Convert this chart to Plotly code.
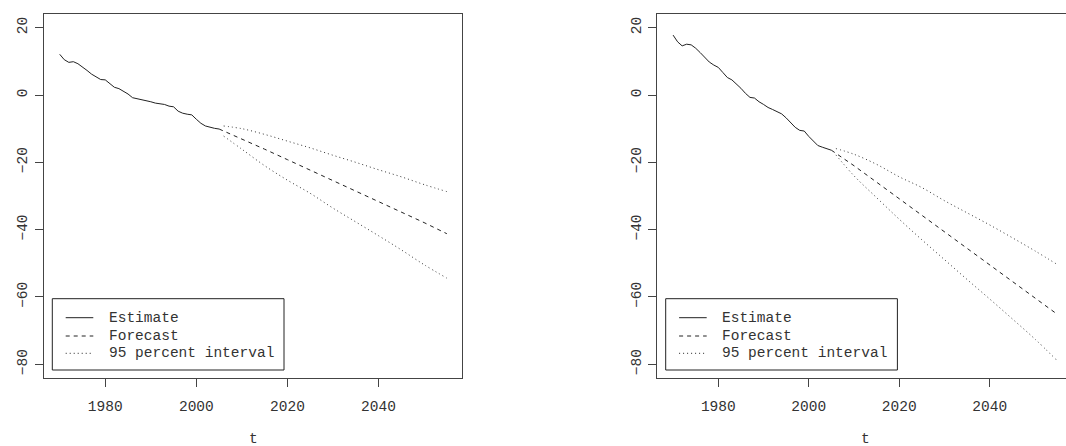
import plotly.graph_objects as go

# ---------------- data ----------------
est_years = list(range(1970, 2006))
left_est = [12.1, 10.5, 9.7, 9.9, 9.3, 8.4, 7.3, 6.2, 5.3, 4.6,
            4.5, 3.5, 2.3, 1.9, 1.2, 0.3, -0.8, -1.1, -1.2, -1.7,
            -2.0, -2.4, -2.5, -2.8, -3.3, -3.5, -4.8, -5.4, -5.7, -5.9,
            -7.2, -8.4, -9.2, -9.6, -9.9, -10.1]
right_est = [17.8, 15.8, 14.6, 15.1, 14.9, 13.9, 12.6, 11.3, 9.8, 8.9,
             8.2, 6.7, 5.2, 4.5, 3.3, 2.0, 0.5, -0.7, -0.9, -2.0,
             -2.8, -3.7, -4.3, -5.0, -5.6, -6.8, -8.3, -9.6, -10.5, -10.7,
             -12.3, -13.8, -15.0, -15.5, -15.9, -16.4]

fc_years = [2005, 2010, 2015, 2020, 2025, 2030, 2035, 2040, 2045, 2050, 2055]
left_fc = [-10.1, -13.0, -16.1, -19.2, -22.3, -25.4, -28.6, -31.7, -34.8, -37.9, -41.2]
right_fc = [-16.4, -21.0, -25.9, -30.8, -35.6, -40.5, -45.4, -50.3, -55.2, -60.2, -65.2]

int_years = [2006, 2010, 2015, 2020, 2025, 2030, 2035, 2040, 2045, 2050, 2055]
left_up = [-9.2, -10.0, -11.7, -13.7, -15.7, -17.9, -20.0, -22.2, -24.3, -26.6, -28.7]
left_lo = [-12.2, -16.1, -21.0, -25.3, -29.2, -33.6, -37.7, -41.8, -46.0, -50.4, -54.4]
right_up = [-15.9, -17.6, -20.6, -24.3, -27.5, -31.4, -35.0, -38.6, -42.4, -46.3, -50.4]
right_lo = [-17.8, -24.0, -30.5, -36.9, -43.0, -48.9, -54.8, -60.6, -66.5, -72.5, -79.0]

x_ticks = [1980, 2000, 2020, 2040]
y_ticks = [20, 0, -20, -40, -60, -80]
legend_labels = ["Estimate", "Forecast", "95 percent interval"]
x_title = "t"

# ---------------- styling ----------------
W, H = 1066, 446
ML, MR, MT, MB = 44, 0, 14, 68
PW, PH = W - ML - MR, H - MT - MB
FONT = "Liberation Mono, Courier New, monospace"
TXT = "#333333"
AX = "#444444"
FS = 14.5
DASH_FC = "4px,4px"
DASH_INT = "1px,3px"


def px_x(p):
    return (p - ML) / PW


def px_y(p):
    return (H - MB - p) / PH


fig = go.Figure()

panels = [
    ("x", "y", left_est, left_fc, left_up, left_lo),
    ("x2", "y2", right_est, right_fc, right_up, right_lo),
]
for xa, ya, est, fc, up, lo in panels:
    fig.add_trace(go.Scatter(x=est_years, y=est, mode="lines", xaxis=xa, yaxis=ya,
                             line=dict(color="#222222", width=1), showlegend=False))
    fig.add_trace(go.Scatter(x=fc_years, y=fc, mode="lines", xaxis=xa, yaxis=ya,
                             line=dict(color="#222222", width=1, dash=DASH_FC), showlegend=False))
    for arr in (up, lo):
        fig.add_trace(go.Scatter(x=int_years, y=arr, mode="lines", xaxis=xa, yaxis=ya,
                                 line=dict(color="#333333", width=1, dash=DASH_INT, shape="spline"),
                                 showlegend=False))

xcommon = dict(tickvals=x_ticks, ticks="outside", ticklen=8, tickcolor=AX, tickwidth=1,
               showline=True, linecolor=AX, linewidth=1, showgrid=False, zeroline=False,
               tickfont=dict(family=FONT, size=FS, color=TXT), ticklabelstandoff=7)
ycommon = dict(tickvals=y_ticks, range=[-84.07, 24.07], ticks="outside", ticklen=8,
               tickcolor=AX, tickwidth=1, showline=True, linecolor=AX, linewidth=1,
               showgrid=False, zeroline=False, tickangle=-90,
               tickfont=dict(family=FONT, size=FS, color=TXT), ticklabelstandoff=2)

fig.update_layout(
    width=W, height=H, autosize=False,
    margin=dict(l=ML, r=MR, t=MT, b=MB, pad=0),
    paper_bgcolor="white", plot_bgcolor="white",
    showlegend=False,
    xaxis=dict(domain=[0, px_x(462)], range=[1966.55, 2058.33], mirror=True,
               anchor="y", **xcommon),
    yaxis=dict(domain=[0, 1], anchor="x", mirror=True, **ycommon),
    xaxis2=dict(domain=[px_x(657.3), 1], range=[1966.51, 2056.87], mirror=True,
                anchor="y2", **xcommon),
    yaxis2=dict(domain=[0, 1], anchor="x2", mirror=False, **ycommon),
)

# axis titles "t"
for cx in (253, 865):
    fig.add_annotation(x=px_x(cx), y=px_y(438.5), xref="paper", yref="paper",
                       text=x_title, showarrow=False, xanchor="center", yanchor="middle",
                       font=dict(family=FONT, size=FS, color=TXT))

# legends (drawn manually, R-style boxed legend)
dashes = ["solid", DASH_FC, DASH_INT]
rows = [317.7, 336.0, 353.3]
for off in (0, 613.4):
    fig.add_shape(type="rect", xref="paper", yref="paper",
                  x0=px_x(52.3 + off), x1=px_x(284 + off),
                  y0=px_y(370), y1=px_y(298.7),
                  line=dict(color="#222222", width=1), fillcolor="white", layer="above")
    for lab, dsh, ry in zip(legend_labels, dashes, rows):
        fig.add_shape(type="line", xref="paper", yref="paper",
                      x0=px_x(65.7 + off), x1=px_x(93.3 + off),
                      y0=px_y(ry), y1=px_y(ry),
                      line=dict(color="#222222", width=1, dash=dsh), layer="above")
        fig.add_annotation(x=px_x(106.5 + off), y=px_y(ry), xref="paper", yref="paper",
                           text=lab, showarrow=False, xanchor="left", yanchor="middle",
                           font=dict(family=FONT, size=FS, color=TXT))

fig.write_html("out.html")
